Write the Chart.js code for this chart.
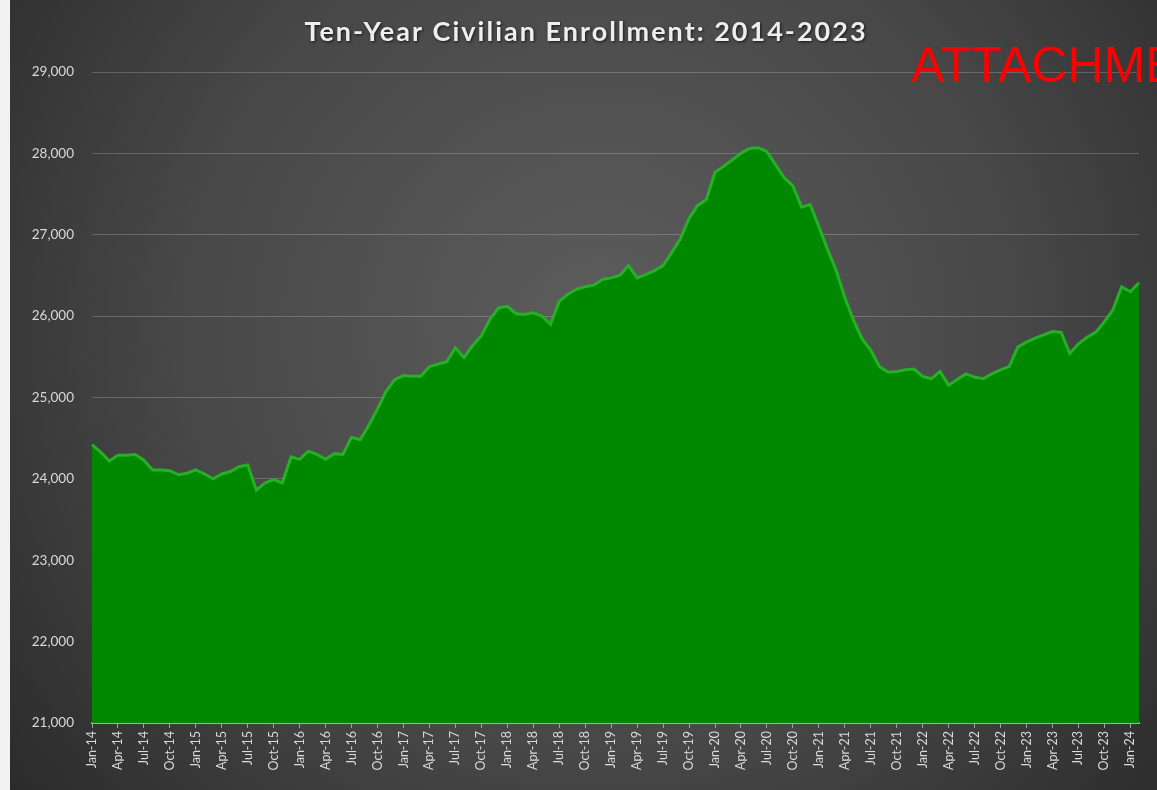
<!DOCTYPE html>
<html>
<head>
<meta charset="utf-8">
<script src="https://cdn.jsdelivr.net/npm/chart.js@4/dist/chart.umd.min.js"></script>
<style>
  html, body { margin: 0; padding: 0; background: #2e2e2e; }
  #wrap { width: 1157px; height: 790px; position: relative; }
</style>
</head>
<body>
<div id="wrap"><canvas id="enrollChart" width="1157" height="790"></canvas></div>
<script>
// Monthly civilian enrollment, Jan-2014 .. Jan-2024
var monthNames = ['Jan', 'Feb', 'Mar', 'Apr', 'May', 'Jun', 'Jul', 'Aug', 'Sep', 'Oct', 'Nov', 'Dec'];
var years = ['14', '15', '16', '17', '18', '19', '20', '21', '22', '23', '24'];

var enrollment2014 = [24420, 24330, 24220, 24290, 24290, 24300, 24230, 24110, 24110, 24100, 24050, 24070];
var enrollment2015 = [24110, 24060, 24000, 24060, 24090, 24150, 24170, 23860, 23950, 23990, 23950, 24270];
var enrollment2016 = [24240, 24340, 24300, 24240, 24310, 24300, 24510, 24480, 24660, 24860, 25080, 25220];
var enrollment2017 = [25270, 25260, 25260, 25380, 25410, 25440, 25610, 25490, 25640, 25760, 25960, 26100];
var enrollment2018 = [26120, 26030, 26020, 26040, 26000, 25900, 26180, 26270, 26330, 26360, 26380, 26450];
var enrollment2019 = [26470, 26500, 26620, 26470, 26510, 26560, 26620, 26780, 26950, 27200, 27360, 27430];
var enrollment2020 = [27770, 27840, 27920, 28000, 28060, 28070, 28020, 27860, 27700, 27600, 27340, 27370];
var enrollment2021 = [27100, 26820, 26560, 26230, 25950, 25720, 25580, 25380, 25310, 25320, 25340, 25350];
var enrollment2022 = [25260, 25230, 25320, 25150, 25220, 25290, 25250, 25230, 25290, 25340, 25380, 25620];
var enrollment2023 = [25680, 25730, 25770, 25810, 25800, 25540, 25660, 25740, 25800, 25930, 26080, 26360];
var enrollment2024 = [26300, 26410];

var yTicks = [21000, 22000, 23000, 24000, 25000, 26000, 27000, 28000, 29000];

// labels for every month, only every 3rd is shown
var monthLabels = [];
for (var y = 0; y < years.length; y++) {
    for (var m = 0; m < 12; m++) {
        monthLabels.push(monthNames[m] + '-' + years[y]);
    }
}

var enrollment = [].concat(enrollment2014, enrollment2015, enrollment2016, enrollment2017,
    enrollment2018, enrollment2019, enrollment2020, enrollment2021, enrollment2022,
    enrollment2023, enrollment2024);
monthLabels = monthLabels.slice(0, enrollment.length);

// fond sombre + titre + tampon rouge
var backdrop = {
    id: 'backdrop',
    beforeDraw: function(chart) {
        var ctx = chart.ctx;
        var w = chart.width, h = chart.height;
        ctx.save();
        var g = ctx.createRadialGradient(600, 330, 20, 600, 330, 760);
        g.addColorStop(0, '#5c5c5c');
        g.addColorStop(0.55, '#474747');
        g.addColorStop(1, '#2a2a2a');
        ctx.fillStyle = g;
        ctx.fillRect(0, 0, w, h);
        // white strip on the left edge
        ctx.fillStyle = '#f2f2f2';
        ctx.fillRect(0, 0, 10, h);
        ctx.restore();
    },
    afterDraw: function(chart) {
        var ctx = chart.ctx;
        ctx.save();
        ctx.font = 'bold 27px Lato, "Open Sans", sans-serif';
        ctx.letterSpacing = '2px';
        ctx.textAlign = 'center';
        ctx.textBaseline = 'middle';
        ctx.shadowColor = 'rgba(0,0,0,0.7)';
        ctx.shadowBlur = 3;
        ctx.shadowOffsetX = 1;
        ctx.shadowOffsetY = 1;
        ctx.fillStyle = '#eeeeee';
        ctx.fillText('Ten-Year Civilian Enrollment: 2014-2023', 586, 32);
        ctx.shadowColor = 'transparent';
        ctx.letterSpacing = '0px';
        ctx.font = '50px "Liberation Sans", Arial, sans-serif';
        ctx.textAlign = 'left';
        ctx.textBaseline = 'alphabetic';
        ctx.fillStyle = '#ff0000';
        ctx.fillText('ATTACHMENT', 911, 82);
        ctx.restore();
    }
};

var ctx = document.getElementById('enrollChart').getContext('2d');
var enrollChart = new Chart(ctx, {
    type: 'line',
    data: {
        labels: monthLabels,
        datasets: [{
            label: 'Civilian Enrollment',
            data: enrollment,
            fill: 'start',
            backgroundColor: 'rgb(0,136,0)',
            borderColor: 'rgb(38,176,38)',
            borderWidth: 3,
            tension: 0,
            pointRadius: 0
        }]
    },
    options: {
        responsive: false,
        animation: false,
        layout: { padding: { left: 10, right: 17, top: 72, bottom: 0 } },
        plugins: {
            legend: { display: false },
            tooltip: { enabled: false }
        },
        scales: {
            x: {
                offset: false,
                afterFit: function(scale) { scale.height = 67; },
                grid: {
                    drawOnChartArea: false,
                    tickLength: 5,
                    color: function(c) { return c.index % 3 === 0 ? '#a0a0a0' : 'transparent'; }
                },
                border: { color: '#7fc97f', width: 2 },
                ticks: {
                    autoSkip: false,
                    minRotation: 90,
                    maxRotation: 90,
                    padding: 3,
                    color: '#d9d9d9',
                    font: { family: 'Lato, "Open Sans", sans-serif', size: 12.5 },
                    callback: function(val, i) { return i % 3 === 0 ? monthLabels[i] : ''; }
                }
            },
            y: {
                min: yTicks[0],
                max: yTicks[yTicks.length - 1],
                afterFit: function(scale) { scale.width = 82; },
                afterBuildTicks: function(scale) {
                    scale.ticks = yTicks.map(function(v) { return { value: v }; });
                },
                grid: {
                    drawTicks: false,
                    color: 'rgba(255,255,255,0.2)',
                    lineWidth: 1
                },
                border: { display: false },
                ticks: {
                    padding: 18,
                    color: '#d9d9d9',
                    font: { family: 'Lato, "Open Sans", sans-serif', size: 13.5 },
                    callback: function(v) { return v.toLocaleString('en-US'); }
                }
            }
        }
    },
    plugins: [backdrop]
});
</script>
</body>
</html>
